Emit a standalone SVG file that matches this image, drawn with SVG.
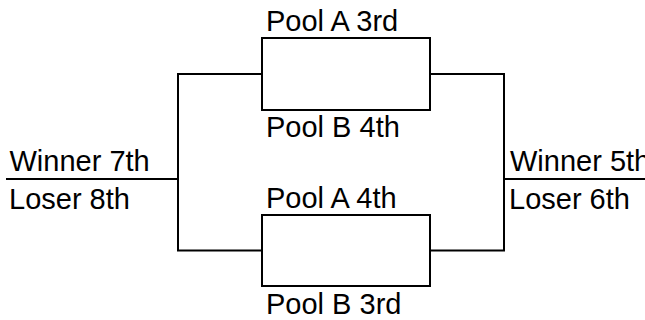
<svg xmlns="http://www.w3.org/2000/svg" width="645" height="320" viewBox="0 0 645 320">
<style>
.ln{fill:none;stroke:#000;stroke-width:2}
.t{font-family:"Liberation Sans",Arial,sans-serif;font-size:29px;fill:#000}
</style>
<rect width="645" height="320" fill="#fff"/>
<g id="connectors">
<path class="ln" d="M262,74 H178 V250.5 H262"/>
<path class="ln" d="M430,74 H504 V250.5 H430"/>
<path class="ln" d="M6,179 H178"/>
<path class="ln" d="M504,179 H645"/>
</g>
<g id="match-top">
<rect class="ln" x="262" y="38" width="168" height="72"/>
<text class="t" x="266" y="31">Pool A 3rd</text>
<text class="t" x="266" y="137">Pool B 4th</text>
</g>
<g id="match-bottom">
<rect class="ln" x="262" y="215" width="168" height="71"/>
<text class="t" x="266" y="208">Pool A 4th</text>
<text class="t" x="266" y="314">Pool B 3rd</text>
</g>
<g id="result-left">
<text class="t" x="9.5" y="171">Winner 7th</text>
<text class="t" x="9" y="209">Loser 8th</text>
</g>
<g id="result-right">
<text class="t" x="510" y="171">Winner 5th</text>
<text class="t" x="509" y="209">Loser 6th</text>
</g>
</svg>
